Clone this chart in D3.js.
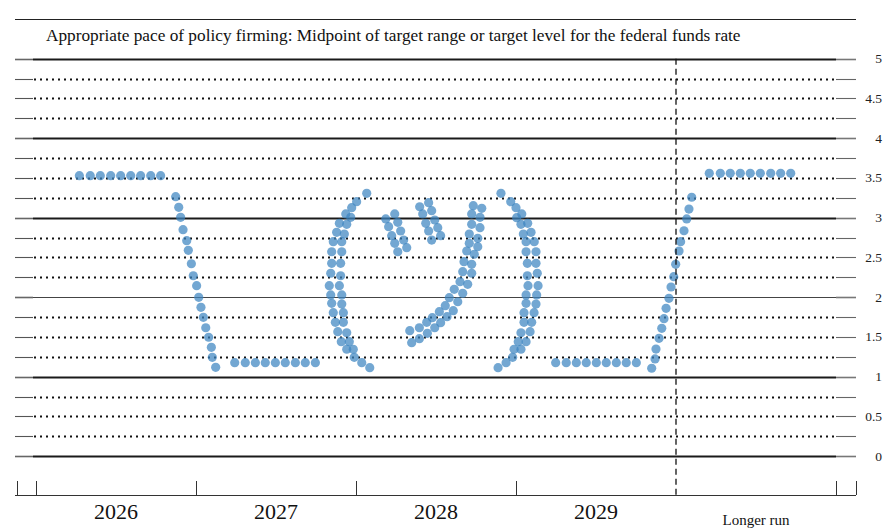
<!DOCTYPE html>
<html><head><meta charset="utf-8">
<script src="https://cdn.jsdelivr.net/npm/d3@7"></script>
<style>body{margin:0;background:#fff} svg{display:block} text{font-family:"Liberation Serif","DejaVu Serif",serif}</style>
</head><body>
<svg id="c" width="888" height="531"></svg>
<script>
// ---------- data ----------
const title = "Appropriate pace of policy firming: Midpoint of target range or target level for the federal funds rate";
const yearLabels = ["2026", "2027", "2028", "2029"];
const yearCenters = [2026, 2027, 2028, 2029];
const longerRunLabel = "Longer run";
const longerRunCenter = 2030;
const columnEdges = [2025.5, 2026.5, 2027.5, 2028.5, 2029.5, 2030.5];
const longerRunDivider = 2029.5;
const rateTicks = [0, 0.5, 1, 1.5, 2, 2.5, 3, 3.5, 4, 4.5, 5];
const rateTickLabels = ["0", "0.5", "1", "1.5", "2", "2.5", "3", "3.5", "4", "4.5", "5"];
const gridLevels = [0, 0.25, 0.5, 0.75, 1, 1.25, 1.5, 1.75, 2, 2.25, 2.5, 2.75, 3, 3.25, 3.5, 3.75, 4, 4.25, 4.5, 4.75, 5];

// each dot: [horizontal position in year units, rate (percent)]
const dotsTopRow2026 = [[2025.771,3.528],[2025.839,3.528],[2025.902,3.528],[2025.967,3.528],[2026.029,3.528],[2026.092,3.528],[2026.154,3.528],[2026.217,3.528],[2026.279,3.528]];
const dotsDescent2026 = [[2026.373,3.264],[2026.392,3.131],[2026.404,3.005],[2026.419,2.849],[2026.442,2.711],[2026.452,2.590],[2026.471,2.421],[2026.483,2.270],[2026.504,2.145],[2026.517,1.999],[2026.531,1.873],[2026.546,1.747],[2026.561,1.616],[2026.579,1.496],[2026.596,1.370],[2026.602,1.244],[2026.623,1.118]];
const dotsBottomRow2027 = [[2026.742,1.176],[2026.808,1.176],[2026.871,1.176],[2026.933,1.176],[2026.996,1.176],[2027.058,1.176],[2027.121,1.176],[2027.183,1.176],[2027.246,1.176]];
const dotsLeftArc = [[2027.567,3.307],[2027.504,3.201],[2027.473,3.126],[2027.436,3.047],[2027.467,3.005],[2027.396,2.929],[2027.442,2.917],[2027.379,2.816],[2027.427,2.795],[2027.358,2.698],[2027.411,2.698],[2027.348,2.572],[2027.411,2.572],[2027.348,2.426],[2027.404,2.426],[2027.342,2.301],[2027.404,2.270],[2027.333,2.145],[2027.396,2.145],[2027.342,2.028],[2027.411,2.028],[2027.348,1.923],[2027.411,1.914],[2027.358,1.805],[2027.421,1.805],[2027.371,1.684],[2027.421,1.684],[2027.386,1.566],[2027.442,1.553],[2027.408,1.440],[2027.458,1.440],[2027.442,1.345],[2027.483,1.345],[2027.489,1.244],[2027.536,1.176],[2027.586,1.113]];
const dotsStrokeA = [[2027.686,2.984],[2027.742,3.047],[2027.704,2.887],[2027.761,2.942],[2027.723,2.774],[2027.779,2.833],[2027.742,2.678],[2027.798,2.719],[2027.761,2.572],[2027.817,2.623]];
const dotsStrokeB = [[2027.898,3.138],[2027.954,3.189],[2027.917,3.047],[2027.973,3.088],[2027.936,2.929],[2027.992,2.971],[2027.954,2.833],[2028.011,2.874],[2027.973,2.719],[2028.029,2.774]];
const dotsHook = [[2028.233,3.151],[2028.286,3.118],[2028.223,3.047],[2028.275,3.005],[2028.223,2.917],[2028.275,2.874],[2028.208,2.795],[2028.261,2.741],[2028.208,2.678],[2028.261,2.635],[2028.192,2.581],[2028.239,2.540],[2028.175,2.447],[2028.223,2.414],[2028.167,2.321],[2028.223,2.301],[2028.150,2.195],[2028.198,2.162],[2028.114,2.099],[2028.167,2.049],[2028.083,1.994],[2028.136,1.943],[2028.058,1.893],[2028.108,1.830],[2028.021,1.818],[2028.069,1.755],[2027.977,1.742],[2028.029,1.679],[2027.942,1.684],[2027.992,1.616],[2027.896,1.616],[2027.946,1.546],[2027.836,1.579],[2027.896,1.478],[2027.848,1.428]];
const dotsRightArc = [[2028.406,3.307],[2028.467,3.201],[2028.500,3.126],[2028.536,3.047],[2028.504,3.000],[2028.573,2.929],[2028.531,2.917],[2028.594,2.816],[2028.546,2.795],[2028.614,2.698],[2028.563,2.698],[2028.625,2.572],[2028.563,2.572],[2028.625,2.426],[2028.571,2.426],[2028.633,2.301],[2028.571,2.270],[2028.638,2.145],[2028.575,2.145],[2028.629,2.028],[2028.563,2.028],[2028.625,1.914],[2028.563,1.923],[2028.613,1.805],[2028.550,1.805],[2028.598,1.684],[2028.550,1.684],[2028.588,1.566],[2028.531,1.553],[2028.563,1.440],[2028.514,1.440],[2028.531,1.345],[2028.488,1.345],[2028.479,1.244],[2028.438,1.176],[2028.388,1.113]];
const dotsBottomRow2029 = [[2028.748,1.176],[2028.814,1.176],[2028.877,1.176],[2028.939,1.176],[2029.002,1.176],[2029.064,1.176],[2029.127,1.176],[2029.189,1.176],[2029.252,1.176]];
const dotsRise2029 = [[2029.348,1.106],[2029.369,1.223],[2029.375,1.348],[2029.394,1.483],[2029.411,1.609],[2029.425,1.730],[2029.438,1.860],[2029.456,1.986],[2029.469,2.128],[2029.486,2.258],[2029.498,2.414],[2029.519,2.581],[2029.529,2.698],[2029.550,2.836],[2029.567,2.984],[2029.581,3.109],[2029.598,3.257]];
const dotsLongerRun = [[2029.708,3.558],[2029.777,3.558],[2029.839,3.558],[2029.902,3.558],[2029.964,3.558],[2030.027,3.558],[2030.092,3.558],[2030.154,3.558],[2030.217,3.558]];

const allDots = [].concat(dotsTopRow2026, dotsDescent2026, dotsBottomRow2027, dotsLeftArc,
  dotsStrokeA, dotsStrokeB, dotsHook, dotsRightArc, dotsBottomRow2029, dotsRise2029, dotsLongerRun);

// ---------- layout ----------
const svg = d3.select("#c");
const serif = '"Liberation Serif", "DejaVu Serif", serif';
const x = d3.scaleLinear().domain([2025.5, 2030.5]).range([36, 836]);
const y = d3.scaleLinear().domain([0, 5]).range([456.2, 58.7]);
const frameL = 15, frameR = 856, axisY = 495;
const innerL = x(2025.5) - 3, innerR = x(2030.5);

// top frame line
svg.append("line").attr("x1", frameL).attr("x2", frameR).attr("y1", 19.5).attr("y2", 19.5)
  .attr("stroke", "#222").attr("stroke-width", 1.2);

// title
const t = svg.append("text").attr("x", 46).attr("y", 41).style("font-family", serif)
  .attr("font-size", 15).attr("fill", "#111").text(title);
const tw = t.node().getComputedTextLength();
t.attr("font-size", 15 * 695 / tw);

// grid
const grid = svg.append("g");
gridLevels.forEach(v => {
  const yy = Math.round(y(v)) + 0.5;
  const isInt = Math.abs(v - Math.round(v)) < 1e-6;
  grid.append("line").attr("x1", frameL).attr("x2", innerL).attr("y1", yy).attr("y2", yy)
    .attr("stroke", isInt ? "#666" : "#555").attr("stroke-width", isInt ? 1.6 : 1.1);
  grid.append("line").attr("x1", innerR).attr("x2", frameR).attr("y1", yy).attr("y2", yy)
    .attr("stroke", isInt ? "#777" : "#666").attr("stroke-width", isInt ? 1.6 : 1.1);
  if (isInt) {
    grid.append("line").attr("x1", innerL).attr("x2", innerR).attr("y1", yy).attr("y2", yy)
      .attr("stroke", v === 2 ? "#444" : "#1a1a1a").attr("stroke-width", v === 2 ? 1.1 : 1.8);
  } else {
    grid.append("line").attr("x1", innerL + 1).attr("x2", innerR).attr("y1", yy).attr("y2", yy)
      .attr("stroke", "#111").attr("stroke-width", 2).attr("stroke-dasharray", "2,4");
  }
});

// right axis labels
svg.append("g").selectAll("text").data(rateTicks).join("text")
  .attr("x", 882).attr("y", d => y(d) + 4.5).attr("text-anchor", "end")
  .style("font-family", serif).attr("font-size", 13.5).attr("fill", "#222")
  .text((d, i) => rateTickLabels[i]);

// dots
svg.append("g").selectAll("circle").data(allDots).join("circle")
  .attr("cx", d => x(d[0])).attr("cy", d => y(d[1])).attr("r", 4.6)
  .attr("fill", "#3d85c0").attr("fill-opacity", 0.72);

// dashed divider
svg.append("line").attr("x1", x(longerRunDivider)).attr("x2", x(longerRunDivider))
  .attr("y1", y(5)).attr("y2", axisY)
  .attr("stroke", "#111").attr("stroke-width", 1.3).attr("stroke-dasharray", "6,4");

// bottom axis
const ax = svg.append("g");
ax.append("line").attr("x1", frameL).attr("x2", frameR).attr("y1", axisY + 0.5).attr("y2", axisY + 0.5)
  .attr("stroke", "#333").attr("stroke-width", 1.2);
const tickXs = [frameL + 1.5].concat(columnEdges.filter(e => e !== longerRunDivider).map(e => x(e)), [frameR - 0.5]);
ax.selectAll("line.tk").data(tickXs).join("line").attr("class", "tk")
  .attr("x1", d => Math.round(d) + 0.5).attr("x2", d => Math.round(d) + 0.5)
  .attr("y1", 481).attr("y2", axisY)
  .attr("stroke", "#333").attr("stroke-width", 1);

ax.selectAll("text.yr").data(yearCenters).join("text").attr("class", "yr")
  .attr("x", d => x(d)).attr("y", 519).attr("text-anchor", "middle")
  .style("font-family", serif).attr("font-size", 22).attr("fill", "#111")
  .text((d, i) => yearLabels[i]);
ax.append("text").attr("x", x(longerRunCenter)).attr("y", 525).attr("text-anchor", "middle")
  .style("font-family", serif).attr("font-size", 15).attr("fill", "#111").text(longerRunLabel);
</script>
</body></html>
